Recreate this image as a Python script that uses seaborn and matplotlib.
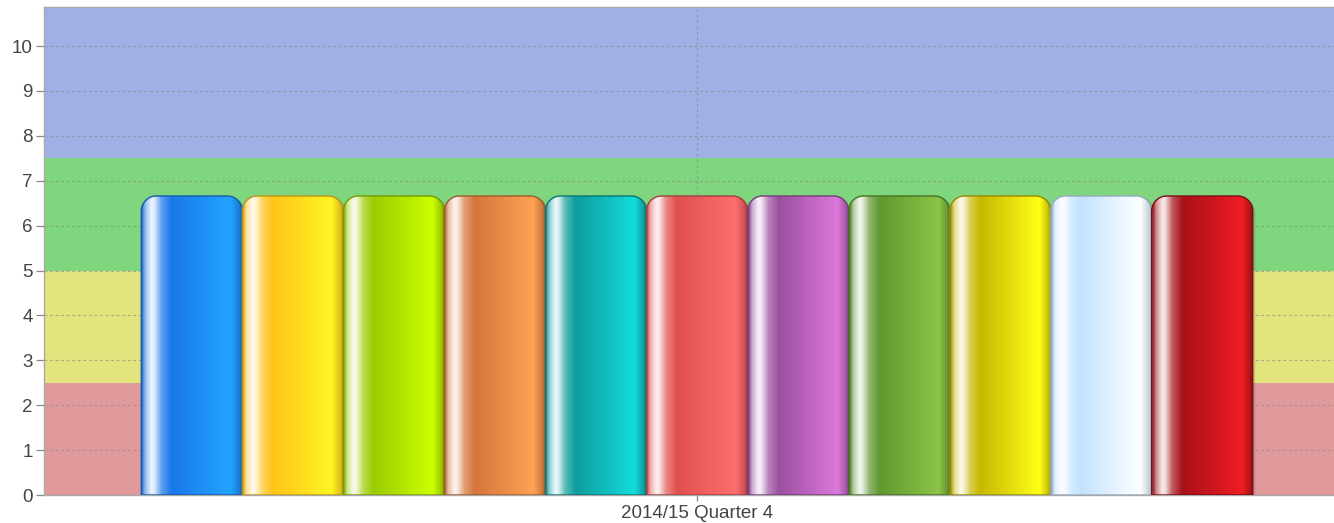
import numpy as np
import pandas as pd
import matplotlib
matplotlib.use("Agg")
import matplotlib.pyplot as plt
import matplotlib.colors as mcolors
from matplotlib.path import Path
from matplotlib.patches import PathPatch
from matplotlib.transforms import ScaledTranslation
import seaborn as sns

# ---- data ----
quarter = "2014/15 Quarter 4"
series_names = ["S1", "S2", "S3", "S4", "S5", "S6", "S7", "S8", "S9", "S10", "S11"]
values = [6.66, 6.66, 6.66, 6.66, 6.66, 6.66, 6.66, 6.66, 6.66, 6.66, 6.66]
base_colors = ["#1a78ea", "#ffc41a", "#9ccc00", "#d4763c", "#0e9c9c", "#e05050",
               "#9c50a0", "#609830", "#c8b800", "#c4e2ff", "#a81018"]
bright_colors = ["#22a4ff", "#fff522", "#ccff00", "#ffa252", "#14dcdc", "#ff6e6e",
                 "#dc78dc", "#8cc448", "#ffff18", "#ffffff", "#f01c24"]
band_edges = [0, 2.5, 5, 7.5, 10.87]
band_colors = ["#e19a9b", "#e4e47e", "#7fd67e", "#9eb0e4"]
y_max = 10.87

sns.set_theme(style="white")
plt.rcParams['font.family'] = ['Liberation Sans', 'DejaVu Sans']

W, H = 1334, 523
fig = plt.figure(figsize=(W / 100, H / 100), dpi=100)
ax = fig.add_axes([44 / W, 1 - 495 / H, 1306 / W, 488 / H])

df = pd.DataFrame({"quarter": [quarter] * len(values), "series": series_names, "value": values})
sns.barplot(data=df, x="quarter", y="value", hue="series", palette=base_colors,
            width=0.851, legend=False, ax=ax, zorder=3)
bar_patches = list(ax.patches)

ax.set_xlim(-0.5, 0.5)
ax.set_ylim(0, y_max)

# bands
for i, c in enumerate(band_colors):
    ax.axhspan(band_edges[i], band_edges[i + 1], color=c, zorder=0, lw=0)

ax.set_yticks(range(0, 11))
ax.grid(True, axis="both", color="#8a8a8a", linestyle=(0, (2.5, 2.5)), linewidth=0.8, alpha=0.65, zorder=1)
ax.set_axisbelow(True)

def mix(c1, c2, t):
    a = np.array(mcolors.to_rgb(c1)); b = np.array(mcolors.to_rgb(c2))
    return a * (1 - t) + b * t

def rounded_top_path(x0, x1, h, rx, ry):
    k = 0.5523
    verts = [(x0, 0), (x0, h - ry),
             (x0, h - ry + k * ry), (x0 + rx - k * rx, h), (x0 + rx, h),
             (x1 - rx, h),
             (x1 - rx + k * rx, h), (x1, h - ry + k * ry), (x1, h - ry),
             (x1, 0), (x0, 0)]
    codes = [Path.MOVETO, Path.LINETO,
             Path.CURVE4, Path.CURVE4, Path.CURVE4,
             Path.LINETO,
             Path.CURVE4, Path.CURVE4, Path.CURVE4,
             Path.LINETO, Path.CLOSEPOLY]
    return Path(verts, codes)

rx = 15 / 1306.0
ry = 15 / (488 / y_max)
N = 300
xs = np.linspace(0, 1, N)
for i, p in enumerate(bar_patches):
    x0 = p.get_x(); w = p.get_width(); h = p.get_height(); x1 = x0 + w
    base = base_colors[i]; bright = bright_colors[i]
    dark = np.array(mcolors.to_rgb(base)) * 0.75
    white = np.array([1, 1, 1])
    stops = [0.0, 0.04, 0.10, 0.13, 0.20, 0.30, 0.88, 0.96, 1.0]
    cols = [dark, mix(base, white, 0.5), mix(base, white, 0.92), mix(base, white, 0.85),
            mix(base, white, 0.3), np.array(mcolors.to_rgb(base)), np.array(mcolors.to_rgb(bright)),
            mix(bright, dark, 0.5), dark]
    cols = np.array(cols)
    grad = np.stack([np.interp(xs, stops, cols[:, j]) for j in range(3)], axis=-1)
    img = grad[np.newaxis, :, :]
    path = rounded_top_path(x0, x1, h, rx, ry)
    # shadow
    sh = PathPatch(path, facecolor="black", edgecolor="none", alpha=0.12, zorder=2.5,
                   transform=ax.transData + ScaledTranslation(2.5 / 100, -1 / 100, fig.dpi_scale_trans))
    ax.add_patch(sh)
    clip = PathPatch(path, facecolor="none", edgecolor="none", transform=ax.transData)
    ax.add_patch(clip)
    im = ax.imshow(img, extent=(x0, x1, 0, h), aspect="auto", interpolation="bilinear",
                   zorder=3.5, origin="lower")
    im.set_clip_path(clip)
    edge = PathPatch(path, facecolor="none", edgecolor=dark, linewidth=1.0, zorder=4,
                     transform=ax.transData)
    ax.add_patch(edge)
    p.set_visible(False)

ax.set_xlim(-0.5, 0.5)
ax.set_ylim(0, y_max)
ax.set_xlabel("")
ax.set_ylabel("")

for s in ["left", "bottom", "top", "right"]:
    ax.spines[s].set_color("#a8a8a8")
    ax.spines[s].set_linewidth(1.0)

ax.tick_params(axis="y", which="both", left=True, length=6, width=0.9, color="#888888",
               labelsize=13.5, labelcolor="#444444", pad=2)
ax.tick_params(axis="x", which="both", bottom=True, length=4, width=0.9, color="#888888",
               labelsize=13.5, labelcolor="#444444", pad=3)

fig.savefig("out.png", dpi=100)
